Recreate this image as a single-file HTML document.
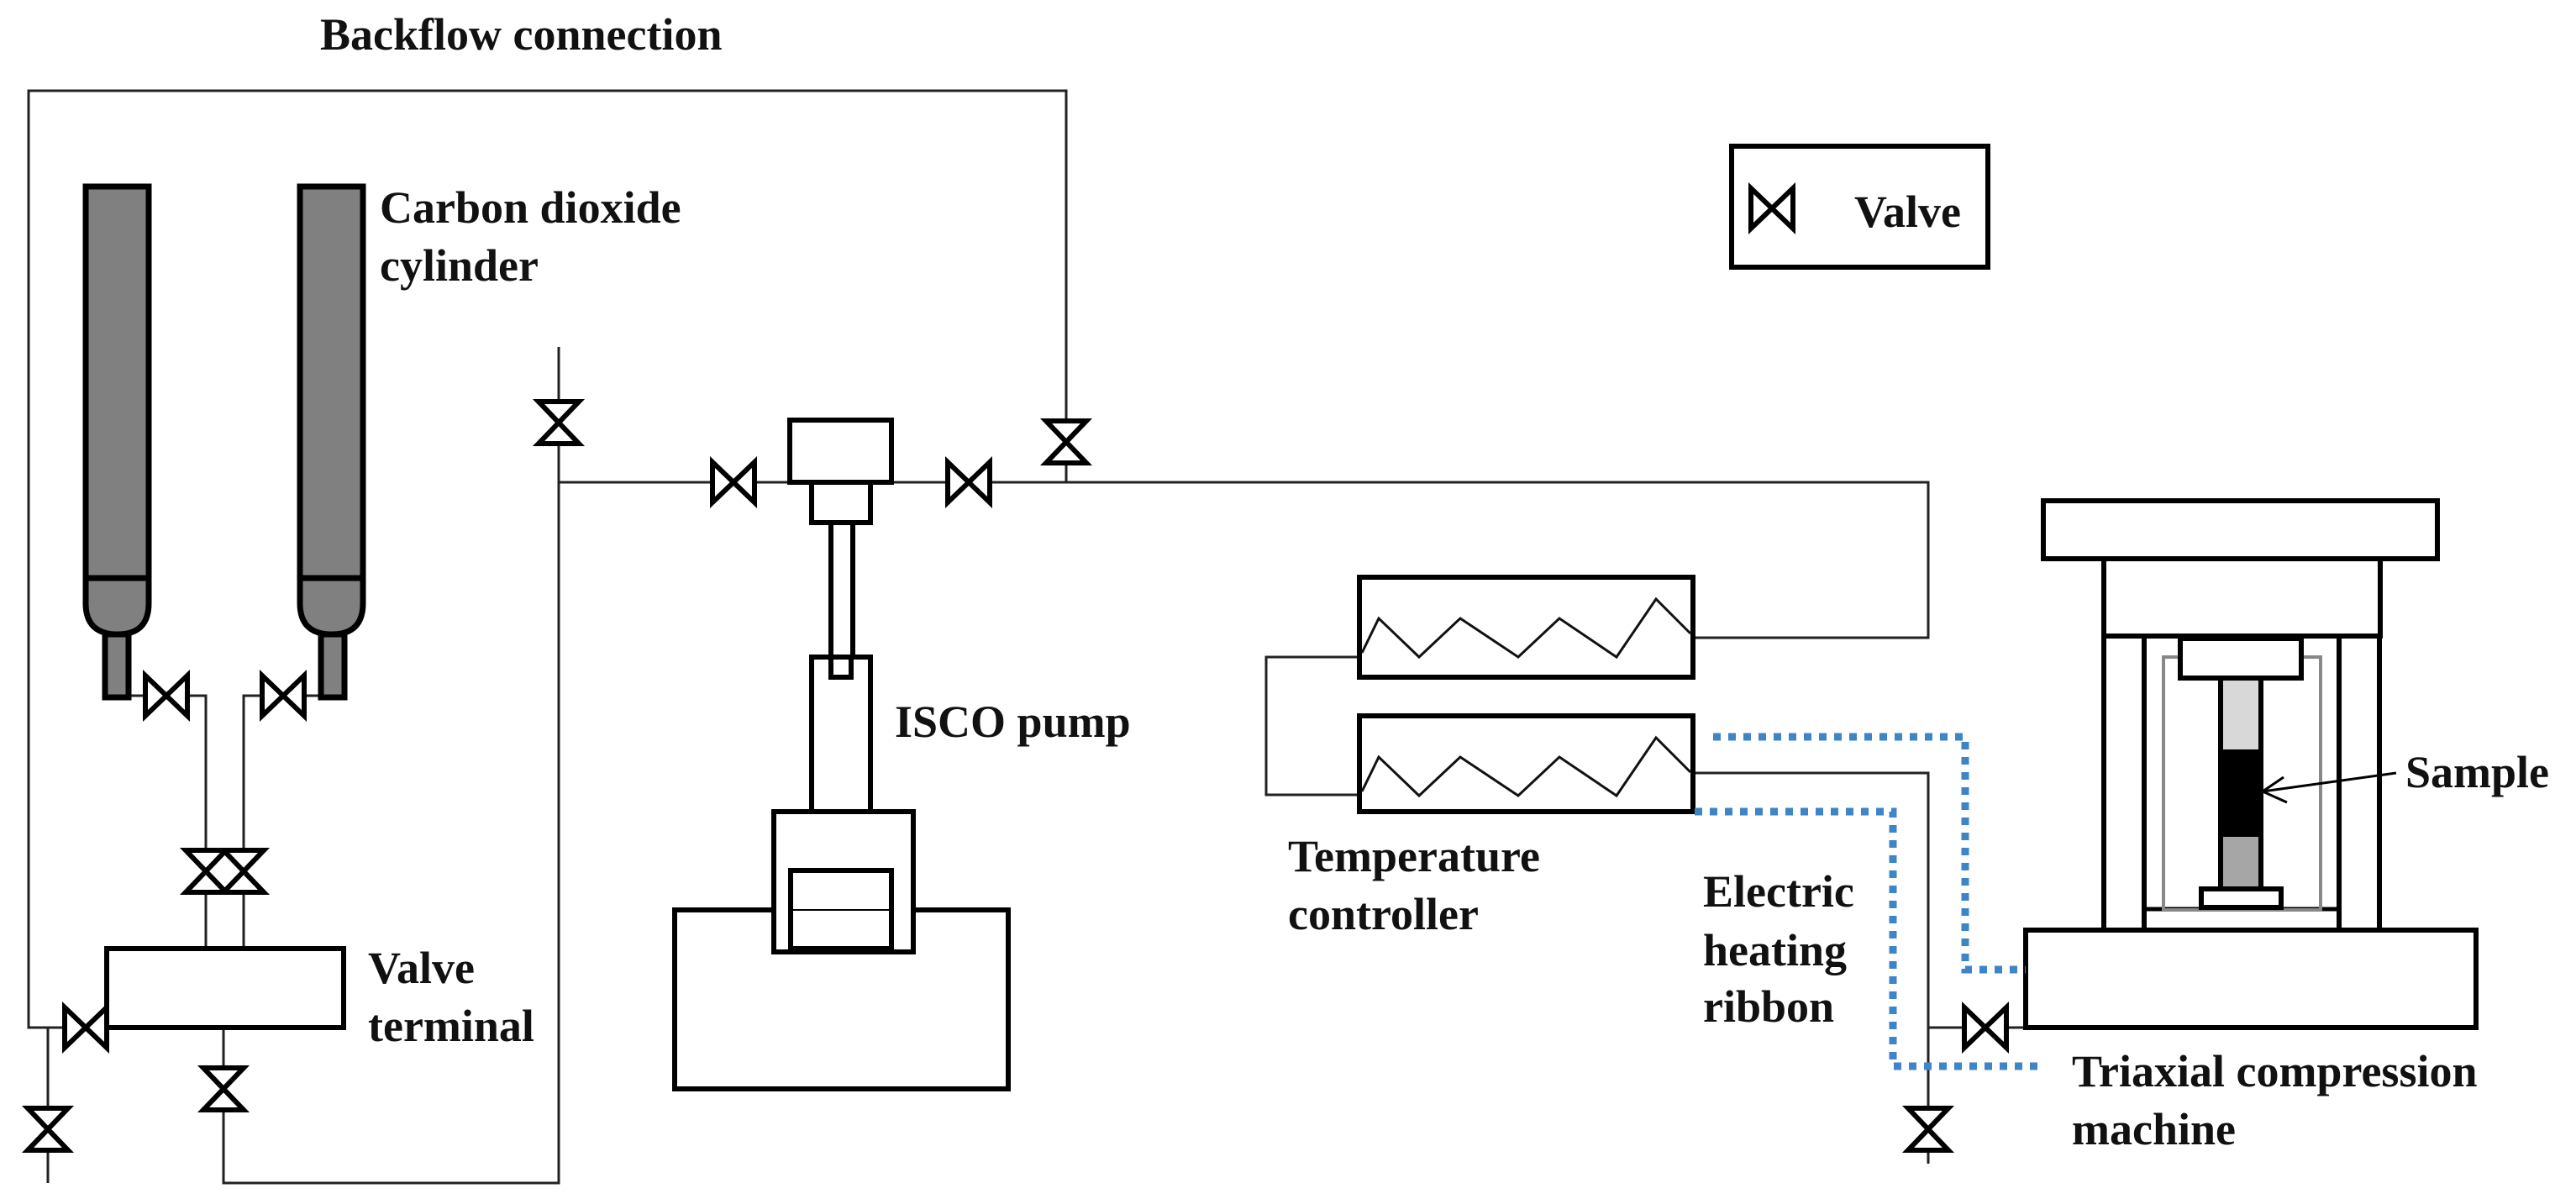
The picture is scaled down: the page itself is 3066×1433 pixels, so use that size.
<!DOCTYPE html>
<html><head><meta charset="utf-8"><style>
html,body{margin:0;padding:0;background:#fff;}
svg{display:block;}
text{font-family:"Liberation Serif",serif;font-weight:bold;font-size:54px;fill:#111;}
</style></head><body>
<svg width="3066" height="1433" viewBox="0 0 3066 1433" xmlns="http://www.w3.org/2000/svg">
<defs>
<g id="vh"><path d="M-25,-24 L-25,24 L25,-24 L25,24 Z" fill="#fff" stroke="#000" stroke-width="6" stroke-linejoin="miter"/></g>
<g id="vv"><path d="M-24,-25 L24,-25 L-24,25 L24,25 Z" fill="#fff" stroke="#000" stroke-width="6" stroke-linejoin="miter"/></g>
</defs>
<g fill="none" stroke="#222" stroke-width="3">
<!-- backflow loop -->
<polyline points="1269,574 1269,108 34,108 34,1223 127,1223"/>
<line x1="57" y1="1223" x2="57" y2="1408"/>
<polyline points="266,1223 266,1408 665,1408 665,413"/>
<polyline points="665,574 2295,574 2295,759 2015,759"/>
<!-- cylinder pipes -->
<polyline points="153,828 245,828 245,1129"/>
<polyline points="382,828 290,828 290,1129"/>
<!-- heater left loop -->
<polyline points="1618,782 1507,782 1507,946 1618,946"/>
<polyline points="2015,920 2295,920 2295,1385"/>
<line x1="2295" y1="1223" x2="2411" y2="1223"/>
</g>
<!-- cylinders -->
<g stroke="#000" stroke-width="7" fill="#808080">
<path d="M102,222 L177,222 L177,718 Q177,755 140,755 Q102,755 102,718 Z"/>
<line x1="102" y1="688" x2="177" y2="688"/>
<rect x="125" y="755" width="28" height="75"/>
<path d="M357,222 L432,222 L432,718 Q432,755 395,755 Q357,755 357,718 Z"/>
<line x1="357" y1="688" x2="432" y2="688"/>
<rect x="382" y="755" width="28" height="75"/>
</g>
<!-- boxes -->
<g stroke="#000" stroke-width="6" fill="#fff">
<rect x="127" y="1129" width="282" height="94"/>
<rect x="803" y="1083" width="397" height="213"/>
<rect x="921" y="966" width="166" height="167"/>
<rect x="941" y="1036" width="120" height="93"/>
<rect x="940" y="500" width="121" height="74"/>
<rect x="966" y="574" width="70" height="48"/>
<rect x="989" y="622" width="26" height="160"/>
<rect x="966" y="782" width="70" height="184"/>
<rect x="989" y="782" width="24" height="24"/>
<rect x="1618" y="687" width="397" height="119"/>
<rect x="1618" y="852" width="397" height="114"/>
<rect x="2061" y="174" width="305" height="144"/>
<!-- machine -->
<rect x="2432" y="596" width="469" height="69"/>
<rect x="2504" y="665" width="329" height="92"/>
<rect x="2504" y="757" width="48" height="350"/>
<rect x="2784" y="757" width="48" height="350"/>
<rect x="2411" y="1107" width="536" height="116"/>
</g>
<line x1="941" y1="1083" x2="1061" y2="1083" stroke="#000" stroke-width="2"/>
<g>
<line x1="2552" y1="1082" x2="2784" y2="1082" stroke="#000" stroke-width="5"/>
<rect x="2575" y="782" width="187" height="301" fill="none" stroke="#888" stroke-width="4"/>
<rect x="2595" y="760" width="144" height="47" fill="#fff" stroke="#000" stroke-width="6"/>
<rect x="2643" y="807" width="48" height="88" fill="#d8d8d8" stroke="#000" stroke-width="6"/>
<rect x="2643" y="895" width="48" height="98" fill="#000" stroke="#000" stroke-width="6"/>
<rect x="2643" y="993" width="48" height="65" fill="#a6a6a6" stroke="#000" stroke-width="6"/>
<rect x="2620" y="1058" width="95" height="22" fill="#fff" stroke="#000" stroke-width="6"/>
<polyline points="2852,920 2693,942" fill="none" stroke="#000" stroke-width="3"/>
<polyline points="2718,925 2693,942 2722,955" fill="none" stroke="#000" stroke-width="3"/>
</g>
<!-- zigzags -->
<g fill="none" stroke="#111" stroke-width="3">
<polyline points="1621,777 1641,736 1689,782 1738,736 1807,782 1856,736 1924,782 1971,713 2012,754"/>
<polyline points="1621,942 1641,901 1689,947 1738,901 1807,947 1856,901 1924,947 1971,878 2012,919"/>
</g>
<!-- blue dotted -->
<g fill="none" stroke="#3d85c6" stroke-width="9" stroke-dasharray="9,9">
<polyline points="2039,877 2339,877 2339,1154 2411,1154"/>
<polyline points="2017,966 2253,966 2253,1269 2430,1269"/>
</g>
<!-- valves -->
<use href="#vh" x="198" y="828"/>
<use href="#vh" x="337" y="828"/>
<use href="#vv" x="245" y="1037"/>
<use href="#vv" x="290" y="1037"/>
<use href="#vh" x="102" y="1223"/>
<use href="#vv" x="57" y="1344"/>
<use href="#vv" x="266" y="1296"/>
<use href="#vv" x="665" y="503"/>
<use href="#vh" x="873" y="574"/>
<use href="#vh" x="1153" y="574"/>
<use href="#vv" x="1269" y="526"/>
<use href="#vh" x="2363" y="1223"/>
<use href="#vv" x="2295" y="1344"/>
<use href="#vh" x="2109" y="248"/>
<!-- labels -->
<text x="381" y="59">Backflow connection</text>
<text x="452" y="265">Carbon dioxide</text>
<text x="452" y="334">cylinder</text>
<text x="438" y="1170">Valve</text>
<text x="438" y="1239">terminal</text>
<text x="1065" y="877">ISCO pump</text>
<text x="2207" y="270">Valve</text>
<text x="1533" y="1037">Temperature</text>
<text x="1533" y="1106">controller</text>
<text x="2027" y="1079">Electric</text>
<text x="2027" y="1149">heating</text>
<text x="2027" y="1216">ribbon</text>
<text x="2863" y="937">Sample</text>
<text x="2466" y="1293">Triaxial compression</text>
<text x="2466" y="1362">machine</text>
</svg>
</body></html>
